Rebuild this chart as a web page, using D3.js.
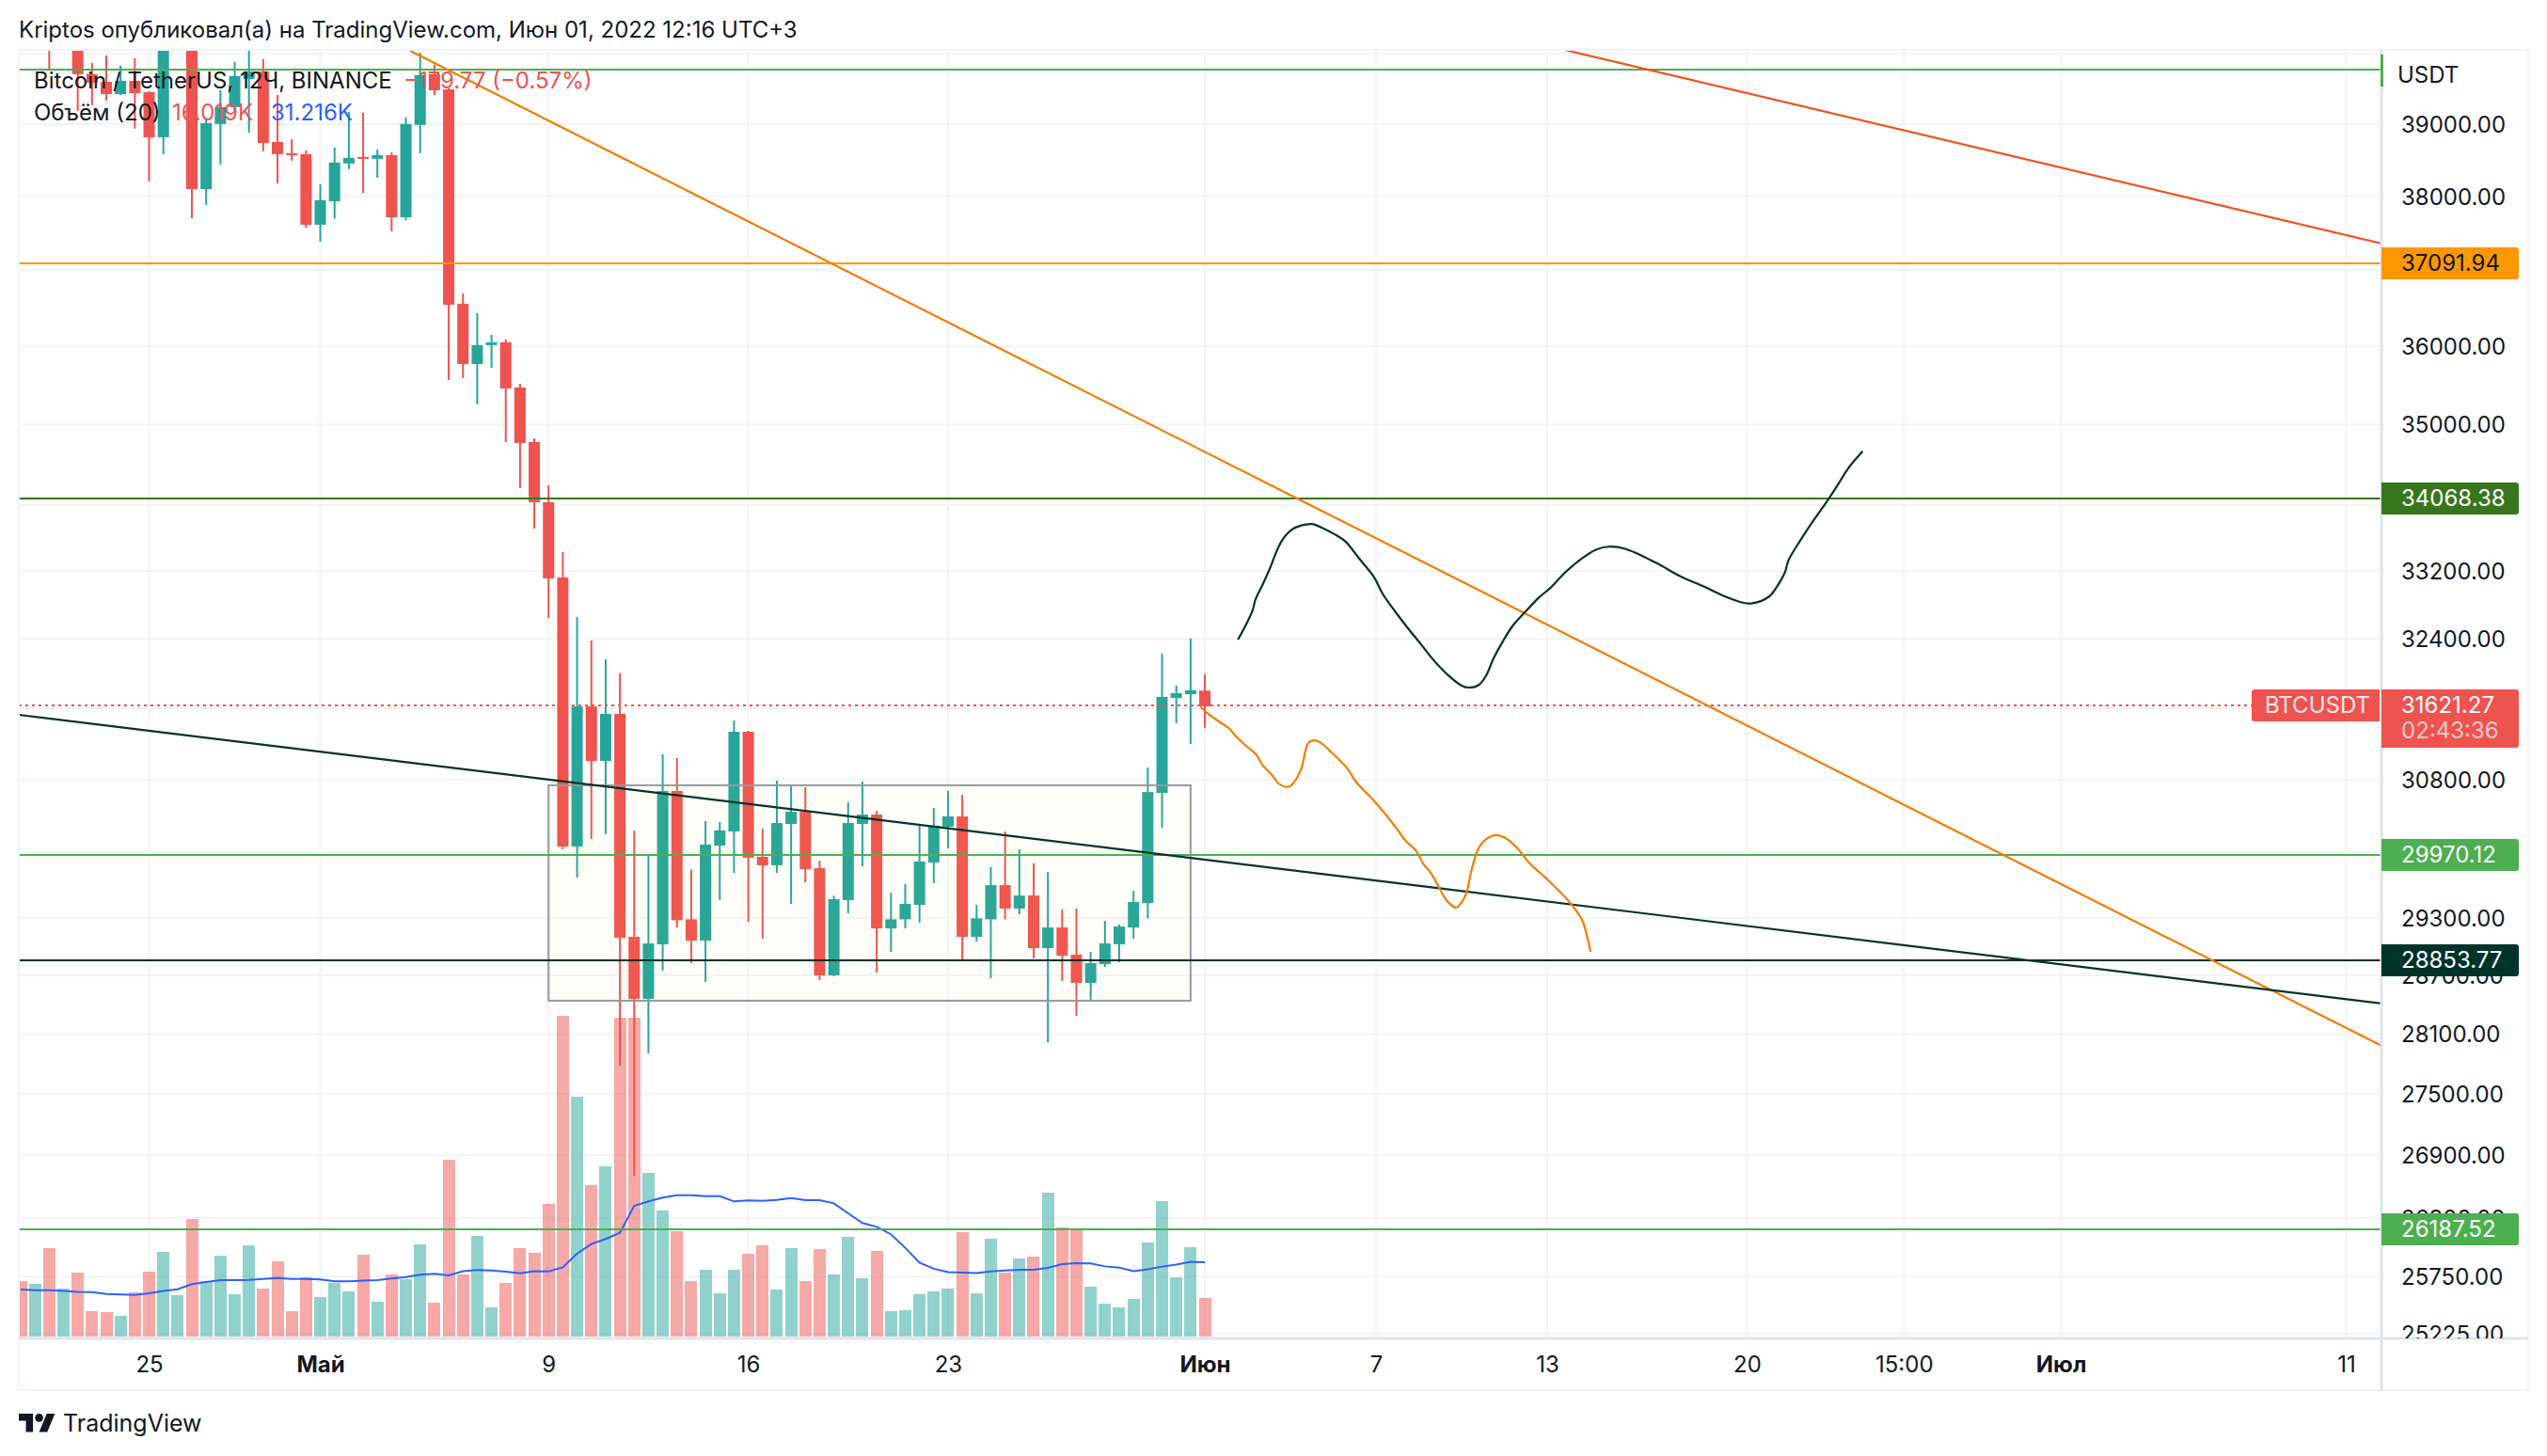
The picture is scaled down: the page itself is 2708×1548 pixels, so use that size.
<!DOCTYPE html>
<html><head><meta charset="utf-8">
<script src="https://cdn.jsdelivr.net/npm/d3@7/dist/d3.min.js"></script>
<style>
html,body{margin:0;padding:0;background:#fff}
svg{display:block}
text{font-family:Inter,"Noto Sans",sans-serif}
</style></head><body><svg id="c" width="2708" height="1548"></svg>
<script>
const opens=[40800,40500,40900,40400,40600,39709,39600,39425,39614,39452,38816,40400,40900,38098,39003,39240,39641,39749,38750,38594,38581,37612,37932,38451,38542,38516,38568,37713,38990,39709,39492,36557,35772,36016,36052,35470,34780,34034,33124,30064,31620,31005,31535,29102,28459,29023,30672,29286,29062,30074,30228,31333,29953,29862,30310,30443,29830,28701,29489,30310,30412,29190,29286,29439,29892,30280,30392,29102,29286,29649,29400,29538,28984,29200,28915,28623,28817,29023,29200,29459,30650,31717,31760,31801.04];
const highs=[41100,41100,41000,41200,40800,39870,39978,39830,39938,39465,40700,41000,41100,39095,39479,39884,40045,39925,39412,38790,38633,38163,38672,39174,39161,38646,38607,39095,40018,39844,39510,36693,36434,36150,36089,35518,34827,34242,33429,32655,32380,32161,32000,30239,29963,31079,31037,29816,30340,30330,31461,31344,30259,30787,30724,30714,29912,29538,30546,30776,30453,29568,29660,30310,30484,30672,30630,29439,29841,30228,30034,29882,29790,29390,29400,28944,29270,29230,29588,30932,32227,31858,32403,31987];
const lows=[40300,40300,39776,40200,39187,39267,39333,39412,38937,38204,38581,40200,37701,37881,38438,39187,38881,38620,38176,38490,37573,37383,37693,38373,38047,38254,37522,37674,38594,39412,35566,35590,35256,35724,34780,34208,33712,32644,30034,29731,30146,30199,27782,26702,27906,28750,29199,28827,28633,29489,29780,29260,29082,29780,29449,29680,28652,28691,29350,29851,28731,28944,29190,29250,29670,30044,28866,29052,28672,29286,29340,28876,28018,28643,28286,28440,28788,28836,29082,29296,30268,31430,31195,31377];
const closes=[40500,40900,40400,40800,39709,39587,39425,39614,39438,38816,40400,40900,38098,39016,39240,39682,39749,38737,38581,38568,37612,37945,38464,38529,38516,38568,37713,39003,39696,39479,36544,35772,36016,36052,35458,34768,34034,33113,30064,31620,31005,31535,29092,28459,29033,30672,29276,29062,30085,30239,31333,29943,29862,30320,30443,29820,28701,29499,30320,30412,29190,29286,29449,29902,30290,30392,29102,29296,29649,29400,29538,28984,29200,28905,28623,28827,29033,29210,29469,30660,31728,31771,31804,31621.27];
const volumes=[23.3,22.1,37.2,20.2,26.9,10.7,10.3,8.7,18.6,27.3,35.6,17.4,49.4,23.3,34.0,17.8,38.3,20.2,31.6,10.7,24.9,16.6,22.5,19.0,34.4,14.6,26.1,24.1,38.7,14.2,74.3,26.1,42.3,12.3,22.5,37.2,35.2,55.7,134.8,100.8,63.6,71.5,134,134,68.8,53,44.3,23.3,28,18.2,28,34.8,38.3,19.8,37.2,23.3,36.8,26.1,41.9,24.5,36,10.7,11.1,17.8,19,20.2,43.9,18.2,41.1,26.9,32.8,33.6,60.5,45.8,45.1,20.9,13.8,12.3,15.8,39.5,56.9,24.9,37.5,16.019];
const volumeMA=[19.8,19.5,19.5,19.2,18.8,18.7,17.9,17.7,17.5,18.2,19.2,19.9,22,22.9,23.7,23.7,23.8,24.2,24.6,24.2,24.2,24,23.2,23.2,23.5,23.7,24.4,25,26,26.4,25.7,27.5,28,27.8,27.3,26.6,27.5,27.4,29.1,34.9,38.9,41,43.6,54.9,56.8,58.4,59.4,59.4,59,59,56.8,57.2,57,57.4,58.2,57.3,57.3,56,51.8,47.7,46.1,43,37.3,31.1,28.5,27.1,26.9,26.7,27.4,27.8,28.1,28.1,28.9,30.4,30.8,30.7,29.5,29,27.5,28.3,29.4,30.2,31.4,31.216];

const xTickLabels=["25","Май","9","16","23","Июн","7","13","20","15:00","Июл","11"];
const xTickBars=[9,21,37,51,65,83,95,107,121,132,143,163];
const xTickBold=["Май","Июн","Июл"];
const priceLabels=[39000,38000,36000,35000,33200,32400,30800,29300,28700,28100,27500,26900,26300,25750,25225];
const priceGrid=[40000,39000,38000,37000,36000,35000,34000,33200,32400,31600,30800,30000,29300,28700,28100,27500,26900,26300,25750,25225];

const levelPrices=[39761,37091.94,34068.38,29970.12,28853.77,26187.52];
const levelColors=["#4caf50","#ff9800","#38761d","#4caf50","#00332a","#4caf50"];
const badgePrices=[37091.94,34068.38,29970.12,28853.77,26187.52];
const badgeFill=["#ff9800","#38761d","#4caf50","#00332a","#4caf50"];
const badgeText=["#131722","#ffffff","#ffffff","#ffffff","#ffffff"];

const trendBars=[[27.3,165.5],[108.2,165.5],[-0.13,165.5]];
const trendPrices=[[40045,27980],[40059,37358],[31525,28411]];
const trendColors=["#f57c00","#f4511e","#00332a"];
const boxBars=[37,82];
const boxPrices=[30735,28440];
const lastPrice=31621.27;

const darkBars=[85.32,85.89,86.33,86.56,87.07,87.64,87.91,88.41,89.09,89.76,90.5,91.27,92.11,92.85,93.8,94.87,95.48,96.32,97.16,98.17,99.01,100.02,101.03,101.53,102.2,102.71,103.21,103.89,104.56,105.4,106.41,107.25,108.26,109.44,110.45,111.29,112.46,114.65,116.33,118.01,119.36,120.7,121.38,122.55,123.06,123.66,123.9,124.74,125.75,126.59,127.43,128.1,129.11];
const darkPrices=[32391,32568,32725,32867,33046,33265,33387,33569,33699,33751,33768,33719,33642,33557,33354,33125,32925,32725,32540,32332,32157,31983,31855,31836,31866,31971,32164,32371,32548,32705,32884,33005,33185,33354,33460,33493,33468,33297,33137,33013,32905,32825,32817,32897,33005,33185,33326,33569,33833,34040,34267,34453,34664];
const orangeBars=[82.7,83.2,84.04,84.71,85.22,85.72,86.56,87.07,87.74,88.14,88.68,89.02,89.49,89.83,90.03,90.26,90.6,91.1,91.78,92.95,93.63,94.97,96.49,96.99,97.83,98.34,98.84,99.51,100.02,100.62,101.03,101.36,101.7,102.2,102.71,103.38,104.05,104.89,105.74,106.91,108.43,109.44,109.77,110.04];
const orangePrices=[31616,31540,31445,31370,31274,31198,31085,30955,30844,30757,30716,30730,30825,30955,31104,31206,31237,31213,31115,30928,30768,30544,30251,30141,30013,29869,29780,29597,29473,29410,29473,29579,29816,30050,30141,30188,30159,30050,29887,29724,29491,29280,29118,28945];

const UP="#26a69a",DOWN="#ef5350",INK="#131722",FS=24;
const L=20,R=2532,T=53,B=1423,FR=2688,FB=1478;
const svg=d3.select("#c");
const defs=svg.append("defs");
defs.append("clipPath").attr("id","pane").append("rect").attr("x",L).attr("y",T).attr("width",R-L).attr("height",B-T);
defs.append("clipPath").attr("id","scale").append("rect").attr("x",R).attr("y",T).attr("width",FR-R).attr("height",B-T);

const x=d3.scaleLinear().domain([0,83]).range([22,1281]);
const y=d3.scaleLog().domain([40058,25182]).range([T,B]);
const v=d3.scaleLinear().domain([0,134.8]).range([1421,1080]);
const yl=d=>Math.floor(y(d));

const pane=svg.append("g").attr("clip-path","url(#pane)");
// grid
pane.append("g").selectAll("line").data(priceGrid).join("line")
 .attr("x1",L).attr("x2",R).attr("y1",d=>y(d)).attr("y2",d=>y(d)).attr("stroke","#f2f3f6").attr("stroke-width",2);
pane.append("g").selectAll("line").data(xTickBars).join("line")
 .attr("x1",d=>x(d)).attr("x2",d=>x(d)).attr("y1",T).attr("y2",B).attr("stroke","#f2f3f6").attr("stroke-width",2);
// volume
const idx=d3.range(opens.length);
pane.append("g").selectAll("rect").data(idx).join("rect")
 .attr("x",i=>x(i)-6.5).attr("width",13).attr("y",i=>v(volumes[i])).attr("height",i=>v(0)-v(volumes[i]))
 .attr("fill",i=>closes[i]<opens[i]?DOWN:UP).attr("opacity",0.5).attr("shape-rendering","crispEdges");
pane.append("path").datum(idx).attr("fill","none").attr("stroke","#2962ff").attr("stroke-width",2)
 .attr("d",d3.line().x(i=>x(i)).y(i=>v(volumeMA[i])));
// candles
const cg=pane.append("g");
cg.selectAll("line").data(idx).join("line")
 .attr("x1",i=>x(i)).attr("x2",i=>x(i)).attr("y1",i=>y(highs[i])).attr("y2",i=>y(lows[i]))
 .attr("stroke",i=>closes[i]<opens[i]?DOWN:UP).attr("stroke-width",2);
cg.selectAll("rect").data(idx).join("rect")
 .attr("x",i=>x(i)-6).attr("width",12)
 .attr("y",i=>y(Math.max(opens[i],closes[i])))
 .attr("height",i=>Math.max(2,Math.abs(y(opens[i])-y(closes[i]))))
 .attr("fill",i=>closes[i]<opens[i]?DOWN:UP);
// price line
pane.append("line").attr("x1",L).attr("x2",2394).attr("y1",yl(lastPrice)).attr("y2",yl(lastPrice))
 .attr("stroke",DOWN).attr("stroke-width",2).attr("stroke-dasharray","3 4");
// box
pane.append("rect").attr("x",x(boxBars[0])).attr("width",x(boxBars[1])-x(boxBars[0]))
 .attr("y",y(boxPrices[0])).attr("height",y(boxPrices[1])-y(boxPrices[0]))
 .attr("fill","#ffeb3b").attr("fill-opacity",0.03).attr("stroke","#9598a1").attr("stroke-width",2);
// levels
pane.append("g").selectAll("line").data(levelPrices).join("line")
 .attr("x1",L).attr("x2",R).attr("y1",yl).attr("y2",yl)
 .attr("stroke",(d,i)=>levelColors[i]).attr("stroke-width",2);
// trend lines
pane.append("g").selectAll("line").data(trendBars).join("line")
 .attr("x1",d=>x(d[0])).attr("x2",d=>x(d[1]))
 .attr("y1",(d,i)=>y(trendPrices[i][0])).attr("y2",(d,i)=>y(trendPrices[i][1]))
 .attr("stroke",(d,i)=>trendColors[i]).attr("stroke-width",2.2);
// brush curves
const curve=(bars,prices)=>d3.line().curve(d3.curveCatmullRom.alpha(0.5)).x(d=>x(d)).y((d,i)=>y(prices[i]))(bars);
pane.append("path").attr("d",curve(darkBars,darkPrices)).attr("fill","none").attr("stroke","#00332a").attr("stroke-width",2.2);
pane.append("path").attr("d",curve(orangeBars,orangePrices)).attr("fill","none").attr("stroke","#f57c00").attr("stroke-width",2.2);

// frame
svg.append("rect").attr("x",L).attr("y",T).attr("width",FR-L).attr("height",FB-T).attr("fill","none").attr("stroke","#f0f3fa").attr("stroke-width",2);
svg.append("line").attr("x1",L).attr("x2",FR).attr("y1",B).attr("y2",B).attr("stroke","#e0e3eb").attr("stroke-width",3);
svg.append("line").attr("x1",R).attr("x2",R).attr("y1",T).attr("y2",FB).attr("stroke","#e0e3eb").attr("stroke-width",3);

// axes
const yAxis=d3.axisRight(y).tickValues(priceLabels).tickSize(0).tickPadding(0).tickFormat(d=>d.toFixed(2));
const yg=svg.append("g").attr("clip-path","url(#scale)").append("g").attr("transform",`translate(2553,0)`).call(yAxis);
yg.select(".domain").remove();
yg.selectAll("text").attr("font-size",FS).attr("fill",INK).attr("x",0).attr("dy","0.35em").attr("font-family","Inter");
const xAxis=d3.axisBottom(x).tickValues(xTickBars).tickSize(0).tickPadding(0).tickFormat(d=>xTickLabels[xTickBars.indexOf(d)]);
const xg=svg.append("g").attr("transform","translate(0,1451)").call(xAxis);
xg.select(".domain").remove();
xg.selectAll("text").attr("font-size",FS).attr("fill",INK).attr("y",0).attr("dy","0.35em").attr("font-family","Inter")
 .attr("font-weight",(d,i)=>xTickBold.includes(xTickLabels[i])?700:400);

svg.append("text").attr("x",2549).attr("y",80).attr("dy","0.35em").attr("font-size",FS).attr("fill",INK).text("USDT");
svg.append("rect").attr("x",2531).attr("y",58).attr("width",3).attr("height",34).attr("fill","#4caf50");

// badges
const bg=svg.append("g");
const bh=34;
bg.selectAll("path").data(badgePrices).join("path")
 .attr("d",d=>{const t=yl(d)-bh/2;return `M2532 ${t}H2675a3 3 0 0 1 3 3V${t+bh-3}a3 3 0 0 1 -3 3H2532Z`;})
 .attr("fill",(d,i)=>badgeFill[i]);
bg.selectAll("text").data(badgePrices).join("text")
 .attr("x",2553).attr("y",yl).attr("dy","0.35em").attr("font-size",FS)
 .attr("fill",(d,i)=>badgeText[i]).text(d=>d.toFixed(2));
// last price
const ly=yl(lastPrice);
svg.append("path").attr("d",`M2532 ${ly-17}H2675a3 3 0 0 1 3 3V${ly+42}a3 3 0 0 1 -3 3H2532Z`).attr("fill",DOWN);
svg.append("text").attr("x",2553).attr("y",ly).attr("dy","0.35em").attr("font-size",FS).attr("fill","#fff").text(lastPrice.toFixed(2));
svg.append("text").attr("x",2553).attr("y",ly+27).attr("dy","0.35em").attr("font-size",FS).attr("fill","#fff").attr("fill-opacity",0.7).text("02:43:36");
svg.append("path").attr("d",`M2530 ${ly-17}H2397a3 3 0 0 0 -3 3V${ly+14}a3 3 0 0 0 3 3H2530Z`).attr("fill",DOWN);
svg.append("text").attr("x",2408).attr("y",ly).attr("dy","0.35em").attr("font-size",FS).attr("fill","#fff").attr("fill-opacity",0.9).text("BTCUSDT");

// titles / legend
svg.append("text").attr("x",20).attr("y",32).attr("dy","0.35em").attr("font-size",FS).attr("fill",INK).text("Kriptos опубликовал(а) на TradingView.com, Июн 01, 2022 12:16 UTC+3");
svg.append("text").attr("x",36).attr("y",86).attr("dy","0.35em").attr("font-size",FS).attr("fill",INK).text("Bitcoin / TetherUS, 12Ч, BINANCE");
svg.append("text").attr("x",429).attr("y",86).attr("dy","0.35em").attr("font-size",FS).attr("fill",DOWN).text("−179.77 (−0.57%)");
svg.append("text").attr("x",36).attr("y",120).attr("dy","0.35em").attr("font-size",FS).attr("fill",INK).text("Объём (20)");
svg.append("text").attr("x",183).attr("y",120).attr("dy","0.35em").attr("font-size",FS).attr("fill",DOWN).text("16.019K");
svg.append("text").attr("x",288).attr("y",120).attr("dy","0.35em").attr("font-size",FS).attr("fill","#2962ff").text("31.216K");

// logo
const lg=svg.append("g").attr("transform","translate(20,1498.7) scale(1.08)").attr("fill",INK);
lg.append("path").attr("d","M14 22H7V11H0V4h14v18zM28 22h-8l7.5-18h8L28 22z");
lg.append("circle").attr("cx",20).attr("cy",8).attr("r",4);
svg.append("text").attr("x",67).attr("y",1513).attr("dy","0.35em").attr("font-size",25).attr("fill",INK).text("TradingView");
</script></body></html>
